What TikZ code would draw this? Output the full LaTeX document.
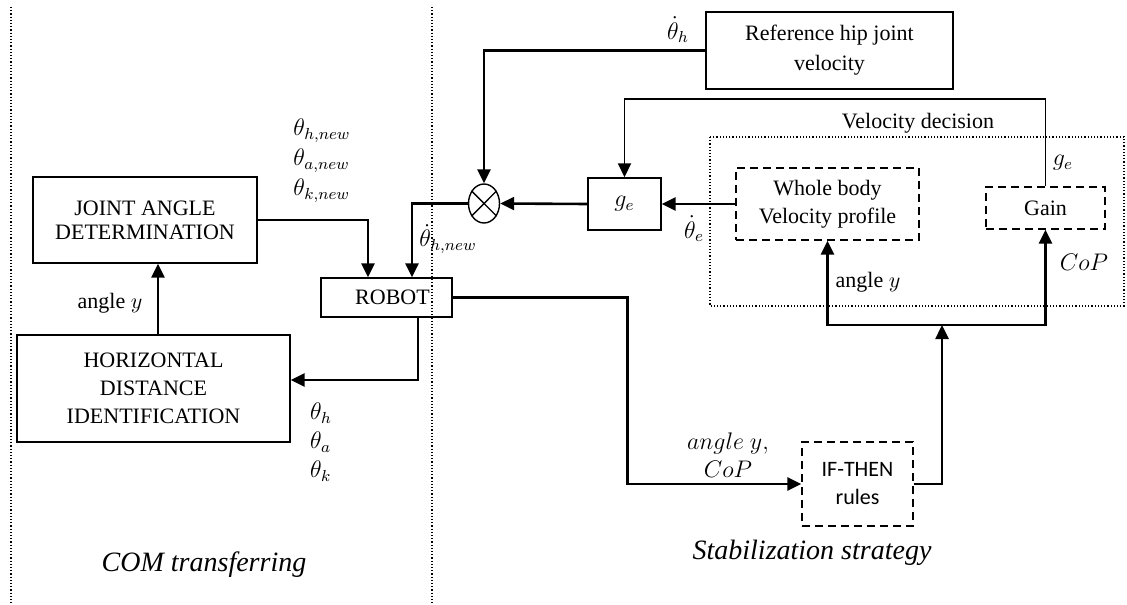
\documentclass[tikz,border=0pt]{standalone}
\usepackage{fontspec}
\setmainfont{Liberation Serif}
\newfontfamily\calibri{Carlito}
\usetikzlibrary{arrows.meta,shapes.geometric}

\tikzset{
	bloc/.style={draw,line width=0.7pt,align=center,inner sep=0pt,font=\fontsize{11}{14}\selectfont},
	blocpt/.style={bloc,dash pattern=on 4pt off 2.5pt},
	fleche/.style={line width=1.3pt,-{Triangle[length=7pt,width=6.5pt]}},
	etiq/.style={font=\fontsize{11}{14}\selectfont,inner sep=0pt},
	titre/.style={font=\itshape\fontsize{14}{16}\selectfont,inner sep=0pt},
}

\begin{document}
\begin{tikzpicture}[x=0.5pt,y=-0.5pt]
		\useasboundingbox (0,0) rectangle (1127,604);
		% séparateurs verticaux
		\draw[densely dotted,line width=0.6pt] (11,7) -- (11,604);
		\draw[densely dotted,line width=0.6pt] (432,7) -- (432,604);
		% blocs de gauche
		\node[bloc,minimum width=112pt,minimum height=43pt,font=\fontsize{11}{12}\selectfont] (ja) at (145,220) {JOINT ANGLE\\DETERMINATION};
		\node[bloc,minimum width=136.5pt,minimum height=53.5pt] (hdi) at (153.5,388.5) {HORIZONTAL\\DISTANCE\\IDENTIFICATION};
		\node[bloc,minimum width=65.5pt,minimum height=19.5pt] (robot) at (386.5,297.5) {\hspace*{6pt}ROBOT};
		% blocs de droite
		\node[bloc,minimum width=123.5pt,minimum height=38.5pt,font=\fontsize{11}{15}\selectfont] (ref) at (829.5,50.5) {Reference hip joint\\velocity};
		\node[bloc,minimum width=36.5pt,minimum height=26pt,font=\fontsize{12}{14}\selectfont] (ge) at (624.5,204) {$g_e$};
		\node[draw,ellipse,line width=0.7pt,minimum width=15.5pt,minimum height=19.5pt,inner sep=0pt] (sum) at (484,203.5) {};
		\draw[line width=0.7pt] (sum.45) -- (sum.225) (sum.135) -- (sum.315);
		% zone de décision (pointillés)
		\draw[densely dotted,line width=0.6pt] (710,137) rectangle (1124,306);
		\node[etiq] (vdec) at (918,123) {Velocity decision};
		\node[blocpt,minimum width=91.5pt,minimum height=36pt] (whole) at (827.5,204) {Whole body\\Velocity profile};
		\node[blocpt,minimum width=59.5pt,minimum height=21pt] (gain) at (1045.5,208) {Gain};
		\node[blocpt,minimum width=55.5pt,minimum height=42pt,font=\calibri\fontsize{11}{14}\selectfont] (ifthen) at (857.5,484) {IF-THEN\\rules};
		\coordinate (bus) at (942,325);
		% liaisons
		\draw[fleche] (ja.east) -| ([xshift=-9.25pt]robot.north);
		\draw[fleche] (sum.west) -| ([xshift=12.75pt]robot.north);
		\draw[fleche] (ref.west) -| (sum.north);
		\draw[fleche,line width=0.9pt] (gain.north) -- ++(0,-87) -| (ge.north);
		\draw[fleche] (ge.west) -- (sum.east);
		\draw[fleche] (whole.west) -- (ge.east);
		\draw[fleche] (robot.east) -- ++(175,0) |- (ifthen.west);
		\draw[fleche] (ifthen.east) -| (bus);
		\draw[fleche] (bus) -| (whole.south);
		\draw[fleche] (bus) -| (gain.south);
		\draw[fleche] ([xshift=15.75pt]robot.south) |- ([yshift=4.25pt]hdi.east);
		\draw[fleche] ([xshift=2.25pt]hdi.north) -- ([xshift=6.5pt]ja.south);
		% étiquettes
		\node[etiq,align=left,font=\fontsize{12}{15}\selectfont] (thnew) at (322,161) {$\theta_{h,new}$\\$\theta_{a,new}$\\$\theta_{k,new}$};
		\node[etiq,anchor=west,font=\fontsize{12}{14}\selectfont] (dthnew) at (419,239) {$\dot\theta_{h,new}$};
		\node[etiq,font=\fontsize{12}{14}\selectfont] (dth) at (678,30) {$\dot\theta_h$};
		\node[etiq,font=\fontsize{12}{14}\selectfont] (dte) at (694,229) {$\dot\theta_e$};
		\node[etiq,font=\fontsize{12}{14}\selectfont] (gelab) at (1063,163) {$g_e$};
		\node[etiq,font=\fontsize{12}{14}\selectfont] (coplab) at (1084,262) {$CoP$};
		\node[etiq] (angvd) at (868,282) {angle $y$};
		\node[etiq] (angja) at (110,303) {angle $y$};
		\node[etiq,align=left,font=\fontsize{12}{14.5}\selectfont] (thlist) at (321,442) {$\theta_h$\\$\theta_a$\\$\theta_k$};
		\node[etiq,align=center,font=\fontsize{12}{14}\selectfont] (angcop) at (728,455) {$angle\ y,$\\$CoP$};
		\node[titre] (com) at (204,565) {COM transferring};
		\node[titre] (stab) at (812,553) {Stabilization strategy};
	\end{tikzpicture}
\end{document}
